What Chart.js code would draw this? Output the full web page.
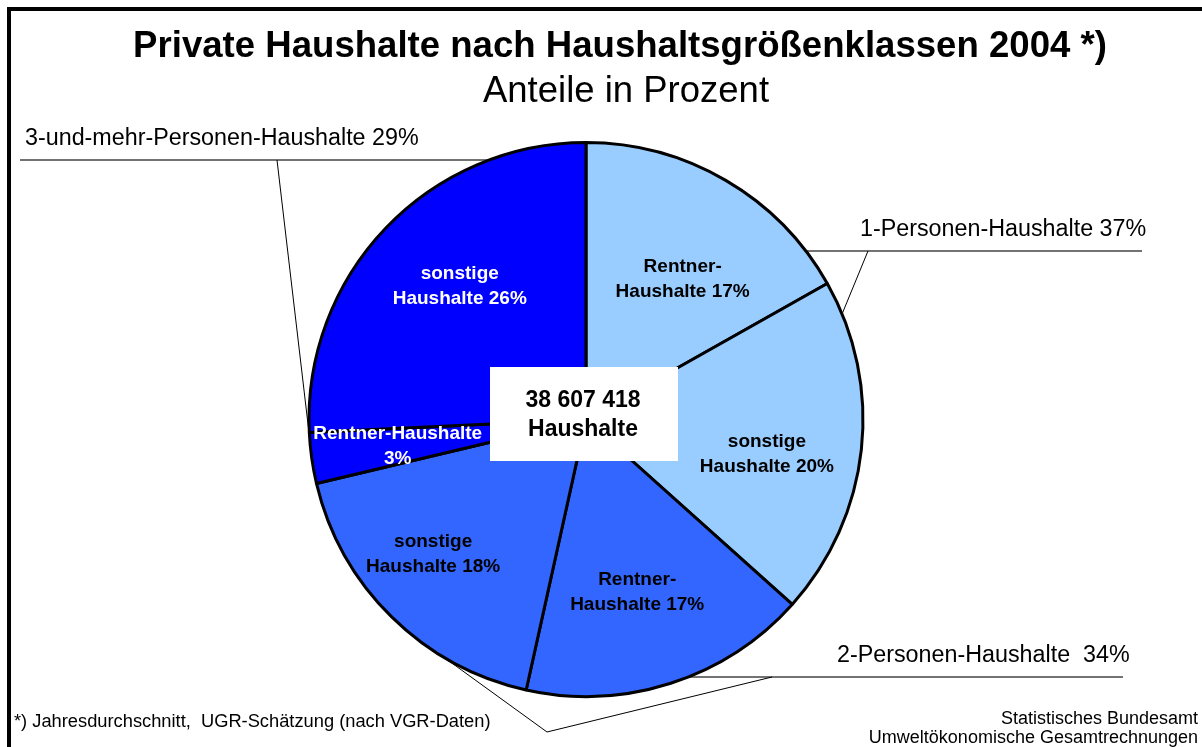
<!DOCTYPE html>
<html lang="de">
<head>
<meta charset="utf-8">
<title>Private Haushalte nach Haushaltsgrößenklassen 2004</title>
<script src="https://cdn.jsdelivr.net/npm/chart.js@4.4.1/dist/chart.umd.min.js"></script>
<style>
  html, body { margin: 0; padding: 0; background: #fff; overflow: hidden; }
  canvas { display: block; }
</style>
</head>
<body>
<canvas id="chart" width="1202" height="747"></canvas>
<script>
// Daten (Anteile in Prozent, im Uhrzeigersinn ab 12 Uhr)
const sliceNames = ["Rentner-Haushalte", "sonstige Haushalte", "Rentner-Haushalte", "sonstige Haushalte", "Rentner-Haushalte", "sonstige Haushalte"];
const sliceValues = [17, 20, 17, 18, 3, 26];
const sliceTexts = [
    ["Rentner-", "Haushalte 17%"],
    ["sonstige", "Haushalte 20%"],
    ["Rentner-", "Haushalte 17%"],
    ["sonstige", "Haushalte 18%"],
    ["Rentner-Haushalte", "3%"],
    ["sonstige", "Haushalte 26%"]
];
const groupLabels = ["1-Personen-Haushalte 37%", "2-Personen-Haushalte  34%", "3-und-mehr-Personen-Haushalte 29%"];
const totalLines = ["38 607 418", "Haushalte"];
const titleText = "Private Haushalte nach Haushaltsgrößenklassen 2004 *)";
const subtitleText = "Anteile in Prozent";
const footnoteText = "*) Jahresdurchschnitt,  UGR-Schätzung (nach VGR-Daten)";
const sourceLines = ["Statistisches Bundesamt", "Umweltökonomische Gesamtrechnungen"];

// Farben
const sliceColors = ["#99CCFF", "#99CCFF", "#3366FF", "#3366FF", "#0000FF", "#0000FF"];
const sliceTextColors = ["#000", "#000", "#000", "#000", "#fff", "#fff"];

const FONT = '"Liberation Sans", Arial, Helvetica, sans-serif';

// Lage der Beschriftungen im Segment: Winkelverschiebung (Grad) und Abstand vom Mittelpunkt
const sliceTextPlace = [
    { shift: 3.9, r: 172 },
    { shift: 4.3, r: 184 },
    { shift: 1.2, r: 179 },
    { shift: 4.3, r: 203 },
    { shift: 0.3, r: 190 },
    { shift: 3.3, r: 185 }
];

// Gruppenbeschriftungen mit Hinweislinien
const leaders = [
    { text: [860, 236], y: 251, x1: 760, x2: 1142, knees: [[868, 251]], deg: 67.6 },
    { text: [837, 662], y: 677, x1: 650, x2: 1123, knees: [[772, 677], [547, 732]], deg: 210.9 },
    { text: [25, 145], y: 160, x1: 20, x2: 586, knees: [[277, 160]], deg: 266.2 }
];

function pieGeom(chart) {
    let arc = chart.getDatasetMeta(0).data[0];
    return { cx: arc.x, cy: arc.y, r: arc.outerRadius };
}

// Grad im Uhrzeigersinn ab 12 Uhr
function polar(g, deg, r) {
    let a = (deg - 90) * Math.PI / 180;
    return [g.cx + r * Math.cos(a), g.cy + r * Math.sin(a)];
}

const decorations = {
    id: "decorations",
    beforeDatasetsDraw(chart) {
        let ctx = chart.ctx;
        let g = pieGeom(chart);
        ctx.save();
        leaders.forEach((l) => {
            // waagerechte Linie (wird teilweise vom Kreis verdeckt)
            ctx.strokeStyle = "#444";
            ctx.lineWidth = 1.5;
            ctx.beginPath();
            ctx.moveTo(l.x1, l.y);
            ctx.lineTo(l.x2, l.y);
            ctx.stroke();
            // Verbindung zum Kreis
            ctx.strokeStyle = "#000";
            ctx.lineWidth = 1;
            ctx.beginPath();
            ctx.moveTo(l.knees[0][0], l.knees[0][1]);
            l.knees.slice(1).forEach((p) => ctx.lineTo(p[0], p[1]));
            let end = polar(g, l.deg, g.r);
            ctx.lineTo(end[0], end[1]);
            ctx.stroke();
        });
        ctx.restore();
    },
    afterDatasetsDraw(chart) {
        let ctx = chart.ctx;
        let g = pieGeom(chart);
        let arcs = chart.getDatasetMeta(0).data;
        ctx.save();

        // Segmentbeschriftungen
        ctx.font = "bold 19px " + FONT;
        ctx.textAlign = "center";
        ctx.textBaseline = "alphabetic";
        arcs.forEach((arc, i) => {
            let mid = ((arc.startAngle + arc.endAngle) / 2) * 180 / Math.PI + 90;
            let p = polar(g, mid + sliceTextPlace[i].shift, sliceTextPlace[i].r);
            ctx.fillStyle = sliceTextColors[i];
            let lines = sliceTexts[i];
            lines.forEach((t, k) => {
                let y = p[1] + (k - (lines.length - 1) / 2) * 25 + 6.8;
                ctx.fillText(t, p[0], y);
            });
        });

        // weißes Feld in der Mitte
        ctx.fillStyle = "#fff";
        ctx.fillRect(g.cx - 96, g.cy - 52.5, 188, 94);
        ctx.fillStyle = "#000";
        ctx.font = "bold 23px " + FONT;
        ctx.fillText(totalLines[0], g.cx - 3, g.cy - 20.5 + 8.2);
        ctx.fillText(totalLines[1], g.cx - 3, g.cy + 8.5 + 8.2);

        // Gruppenbeschriftungen
        ctx.font = "23.3px " + FONT;
        ctx.textAlign = "left";
        leaders.forEach((l, i) => {
            ctx.fillText(groupLabels[i], l.text[0], l.text[1]);
        });

        // Titel
        ctx.textAlign = "center";
        ctx.font = "bold 36.6px " + FONT;
        ctx.fillText(titleText, 620, 57);
        ctx.font = "36.5px " + FONT;
        ctx.fillText(subtitleText, 626, 102);

        // Fußnote und Quelle
        ctx.font = "18.3px " + FONT;
        ctx.textAlign = "left";
        ctx.fillText(footnoteText, 14, 727);
        ctx.font = "18px " + FONT;
        ctx.textAlign = "right";
        ctx.fillText(sourceLines[0], 1198, 724);
        ctx.fillText(sourceLines[1], 1198, 743);

        // Rahmen
        ctx.strokeStyle = "#000";
        ctx.lineWidth = 4;
        ctx.strokeRect(9, 9, 1260, 800);
        ctx.restore();
    }
};

let ctx = document.getElementById("chart");

new Chart(ctx, {
    type: "pie",
    data: {
        labels: sliceNames,
        datasets: [
            {
                data: sliceValues,
                backgroundColor: sliceColors,
                borderColor: "#000",
                borderWidth: 3,
                hoverOffset: 0
            }
        ]
    },
    options: {
        responsive: false,
        devicePixelRatio: 1,
        animation: false,
        events: [],
        radius: 277,
        layout: {
            padding: { left: 300, right: 330, top: 140, bottom: 48 }
        },
        plugins: {
            legend: { display: false },
            tooltip: { enabled: false },
            title: { display: false }
        }
    },
    plugins: [decorations]
});
</script>
</body>
</html>
